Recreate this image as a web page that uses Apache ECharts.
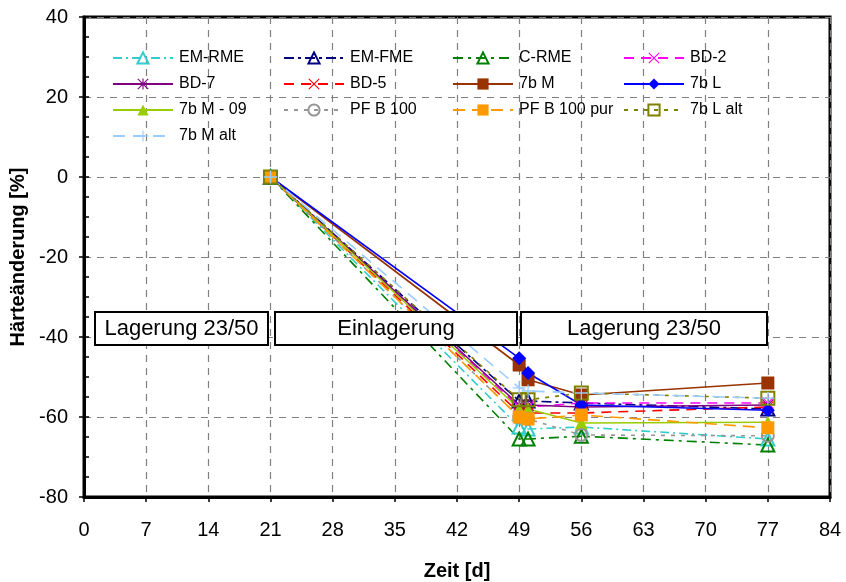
<!DOCTYPE html>
<html><head><meta charset="utf-8">
<script src="https://cdn.jsdelivr.net/npm/echarts@6/dist/echarts.min.js"></script>
<style>html,body{margin:0;padding:0;background:#fff}#c{width:846px;height:582px}</style>
</head><body><div id="c"></div>
<script>
// ---- data ----
var days = [21, 49, 50, 56, 77];
var xTicks = [0, 7, 14, 21, 28, 35, 42, 49, 56, 63, 70, 77, 84];
var yTicks = [-80, -60, -40, -20, 0, 20, 40];
var seriesNames = ['EM-RME','EM-FME','C-RME','BD-2','BD-7','BD-5','7b M','7b L','7b M - 09','PF B 100','PF B 100 pur','7b L alt','7b M alt'];
var emRme     = [0, -62.5, -63, -62.5, -65.5];
var emFme     = [0, -56, -56, -56.5, -58];
var cRme      = [0, -65.5, -65.5, -64.8, -67];
var bd2       = [0, -57.5, -57.5, -56.5, -56.5];
var bd7       = [0, -57, -57, -57.5, -57];
var bd5       = [0, -59, -59, -59, -57.5];
var m7b       = [0, -47, -50.7, -54.5, -51.5];
var l7b       = [0, -45.3, -49, -57, -58.3];
var m7b09     = [0, -58, -58, -61.5, -61.3];
var pfb100    = [0, -60, -60.5, -64.5, -64.7];
var pfb100pur = [0, -60, -60.5, -59.5, -62.7];
var l7bAlt    = [0, -55.7, -55.7, -54, -55.3];
var m7bAlt    = [0, -52.7, -53.5, -54, -55.3];
var boxLabels = ['Lagerung 23/50', 'Einlagerung', 'Lagerung 23/50'];

// ---- styles ----
var plusPath = 'path://M9,0H11V9H20V11H11V20H9V11H0V9H9Z';
var xPath = 'path://M1.4,0L10,8.6L18.6,0L20,1.4L11.4,10L20,18.6L18.6,20L10,11.4L1.4,20L0,18.6L8.6,10L0,1.4Z';
var starPath = 'path://M1.4,0L10,8.6L18.6,0L20,1.4L11.4,10L20,18.6L18.6,20L10,11.4L1.4,20L0,18.6L8.6,10L0,1.4Z M9,0H11V20H9Z';
var valuesList = [emRme, emFme, cRme, bd2, bd7, bd5, m7b, l7b, m7b09, pfb100, pfb100pur, l7bAlt, m7bAlt];
var styles = [
  {c:'#33CCCC', dash:[9,4,2,4], sym:'triangle', open:true, size:13},
  {c:'#000080', dash:[10,4,3,4], sym:'triangle', open:true, size:13},
  {c:'#008000', dash:[10,5,3,5], sym:'triangle', open:true, size:13},
  {c:'#FF00FF', dash:[10,7], sym:xPath, open:false, size:12},
  {c:'#800080', dash:'solid', sym:starPath, open:false, size:12},
  {c:'#FF0000', dash:[10,7], sym:xPath, open:false, size:12},
  {c:'#993300', dash:'solid', sym:'rect', open:false, size:13},
  {c:'#0000FF', dash:'solid', sym:'diamond', open:false, size:14},
  {c:'#99CC00', dash:'solid', sym:'triangle', open:false, size:13},
  {c:'#969696', dash:[4,6], sym:'circle', open:true, size:12},
  {c:'#FF9900', dash:[12,7], sym:'rect', open:false, size:13},
  {c:'#808000', dash:[4,6], sym:'rect', open:true, size:13},
  {c:'#99CCFF', dash:[12,8], sym:plusPath, open:false, size:13}
];

var series = seriesNames.map(function(n, i){
  var s = styles[i];
  return {
    name: n, type: 'line', xAxisIndex: 0, yAxisIndex: 0,
    data: days.map(function(d, j){ return [d, valuesList[i][j]]; }),
    smooth: false,
    symbol: s.sym, symbolSize: s.size, showAllSymbol: true,
    lineStyle: {color: s.c, width: 1.6, type: s.dash},
    itemStyle: s.open ? {color: 'rgba(255,255,255,0)', borderColor: s.c, borderWidth: 2} : {color: s.c, borderColor: s.c, borderWidth: 0},
    emphasis: {disabled: true},
    animation: false
  };
});

var font = 'Liberation Sans, Arial, sans-serif';
var legendCols = [
  {left: 112, data: ['EM-RME','BD-7','7b M - 09','7b M alt']},
  {left: 283, data: ['EM-FME','BD-5','PF B 100']},
  {left: 452, data: ['C-RME','7b M','PF B 100 pur']},
  {left: 623, data: ['BD-2','7b L','7b L alt']}
];

var chart = echarts.init(document.getElementById('c'), null, {renderer: 'canvas'});
chart.setOption({
  animation: false,
  backgroundColor: '#fff',
  grid: {left: 84, right: 16, top: 17, bottom: 85, containLabel: false, outerBoundsMode: 'none',
    show: true, borderColor: '#000', borderWidth: 3, backgroundColor: 'transparent'},
  legend: legendCols.map(function(col){
    return {
      orient: 'vertical', left: col.left, top: 50, padding: 0,
      itemWidth: 60, itemHeight: 14, itemGap: 10,
      selectedMode: false, data: col.data,
      textStyle: {fontSize: 16, color: '#000', fontFamily: font, padding: [0,0,0,1]}
    };
  }),
  xAxis: [{
    type: 'value', min: xTicks[0], max: xTicks[xTicks.length-1], interval: 7,
    name: 'Zeit [d]', nameLocation: 'middle', nameGap: 64,
    nameTextStyle: {fontSize: 20, fontWeight: 'bold', color: '#000', fontFamily: font},
    axisLine: {show: true, onZero: false, lineStyle: {color: '#000', width: 3}},
    axisTick: {show: true, inside: false, length: 5, lineStyle: {color: '#000', width: 1.5}},
    axisLabel: {fontSize: 20, color: '#000', fontFamily: font, margin: 23},
    splitLine: {show: true, lineStyle: {color: '#808080', width: 1.2, type: [7,6]}}
  }],
  yAxis: [{
    type: 'value', min: yTicks[0], max: yTicks[yTicks.length-1], interval: 20,
    name: 'Härteänderung [%]', nameLocation: 'middle', nameGap: 56,
    nameTextStyle: {fontSize: 20, fontWeight: 'bold', color: '#000', fontFamily: font},
    axisLine: {show: true, onZero: false, lineStyle: {color: '#000', width: 3}},
    axisTick: {show: true, inside: false, length: 5, lineStyle: {color: '#000', width: 1.5}},
    axisLabel: {fontSize: 20, color: '#000', fontFamily: font, margin: 16},
    splitLine: {show: true, lineStyle: {color: '#808080', width: 1.2, type: [7,6]}}
  }, {
    type: 'value', min: yTicks[0], max: yTicks[yTicks.length-1], interval: 5, position: 'left',
    axisLine: {show: false, onZero: false},
    axisTick: {show: true, inside: true, length: 5, lineStyle: {color: '#000', width: 1.5}},
    axisLabel: {show: false}, splitLine: {show: false}
  }],
  series: series
});

// annotation boxes (phases)
var boxes = [
  {x: 95, w: 173, t: boxLabels[0]},
  {x: 275, w: 242, t: boxLabels[1]},
  {x: 521, w: 246, t: boxLabels[2]}
];
var g = [];
boxes.forEach(function(b){
  g.push({type: 'rect', z: 100, shape: {x: b.x, y: 312, width: b.w, height: 33},
    style: {fill: '#fff', stroke: '#000', lineWidth: 2}});
  g.push({type: 'text', z: 101, style: {text: b.t, x: b.x + b.w/2, y: 329, textAlign: 'center', textVerticalAlign: 'middle',
    font: '22px Liberation Sans, Arial, sans-serif', fill: '#000'}});
});
chart.setOption({graphic: g});
</script></body></html>
